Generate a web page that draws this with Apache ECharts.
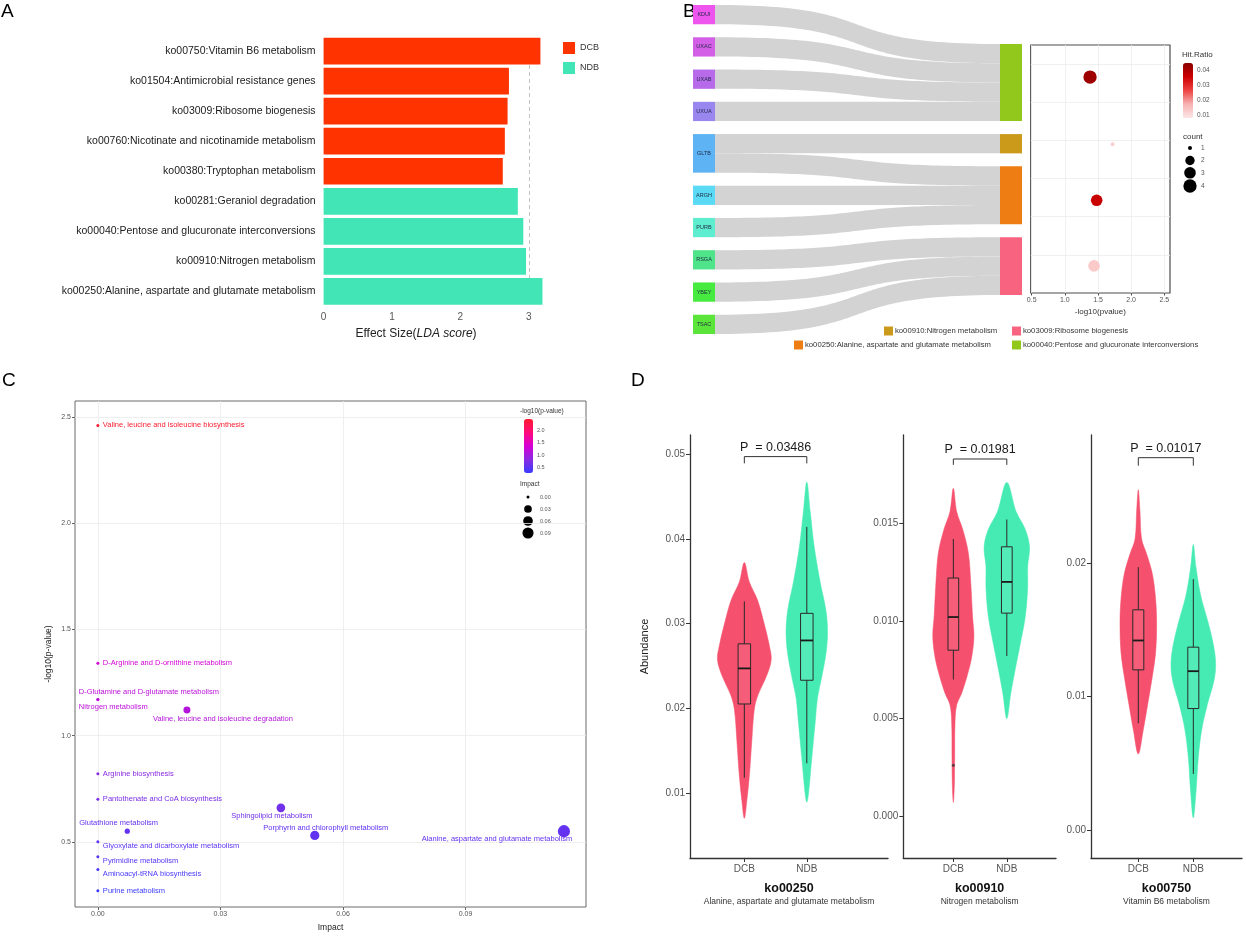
<!DOCTYPE html>
<html>
<head>
<meta charset="utf-8">
<script src="https://cdn.jsdelivr.net/npm/echarts@6/dist/echarts.min.js"></script>
<style>html,body{margin:0;padding:0;background:#fff}#c{width:1246px;height:939px}</style>
</head>
<body>
<div id="c"></div>
<script>
// ================= DATA =================
// ---- Panel A : LEfSe LDA scores
const aCategories = [
  'ko00750:Vitamin B6 metabolism',
  'ko01504:Antimicrobial resistance genes',
  'ko03009:Ribosome biogenesis',
  'ko00760:Nicotinate and nicotinamide metabolism',
  'ko00380:Tryptophan metabolism',
  'ko00281:Geraniol degradation',
  'ko00040:Pentose and glucuronate interconversions',
  'ko00910:Nitrogen metabolism',
  'ko00250:Alanine, aspartate and glutamate metabolism'
];
const aDCB = [3.17, 2.71, 2.69, 2.65, 2.62, null, null, null, null];
const aNDB = [null, null, null, null, null, 2.84, 2.92, 2.96, 3.20];
const aGroups = ['DCB', 'NDB'];
const aRefLine = 3;

// ---- Panel B : gene -> pathway sankey + enrichment dots
const bGenes = ['KDUI', 'UXAC', 'UXAB', 'UXUA', 'GLTB', 'ARGH', 'PURB', 'RSGA', 'YBEY', 'TSAC'];
const bPathways = [
  'ko00040:Pentose and glucuronate interconversions',
  'ko00910:Nitrogen metabolism',
  'ko00250:Alanine, aspartate and glutamate metabolism',
  'ko03009:Ribosome biogenesis'
];
const bLinkSource = ['KDUI', 'UXAC', 'UXAB', 'UXUA', 'GLTB', 'GLTB', 'ARGH', 'PURB', 'RSGA', 'YBEY', 'TSAC'];
const bLinkTarget = [0, 0, 0, 0, 1, 2, 2, 2, 3, 3, 3];
const bLinkValue  = [1, 1, 1, 1, 1, 1, 1, 1, 1, 1, 1];
const bNegLogP = [1.38, 1.72, 1.48, 1.44];
const bRow     = [5.66, 3.90, 2.43, 0.71];
const bHitRatio = [0.042, 0.012, 0.036, 0.013];
const bCount   = [4, 1, 3, 3];
const bXTicks = [0.5, 1.0, 1.5, 2.0, 2.5];
const bHitTicks = [0.04, 0.03, 0.02, 0.01];
const bCountTicks = [1, 2, 3, 4];

// ---- Panel C : pathway impact vs -log10(p)
const cNames = [
  'Valine, leucine and isoleucine biosynthesis',
  'D-Arginine and D-ornithine metabolism',
  'D-Glutamine and D-glutamate metabolism',
  'Nitrogen metabolism',
  'Valine, leucine and isoleucine degradation',
  'Arginine biosynthesis',
  'Pantothenate and CoA biosynthesis',
  'Sphingolipid metabolism',
  'Glutathione metabolism',
  'Porphyrin and chlorophyll metabolism',
  'Alanine, aspartate and glutamate metabolism',
  'Glyoxylate and dicarboxylate metabolism',
  'Pyrimidine metabolism',
  'Aminoacyl-tRNA biosynthesis',
  'Purine metabolism'
];
const cImpact = [0, 0, 0, 0, 0.0218, 0, 0, 0.0448, 0.0072, 0.0531, 0.1141, 0, 0, 0, 0];
const cNegLogP = [2.46, 1.34, 1.17, 1.17, 1.12, 0.82, 0.70, 0.66, 0.55, 0.53, 0.55, 0.50, 0.43, 0.37, 0.27];
const cXTicks = [0, 0.03, 0.06, 0.09];
const cYTicks = [0.5, 1.0, 1.5, 2.0, 2.5];
const cColorTicks = [2.0, 1.5, 1.0, 0.5];
const cImpactTicks = [0, 0.03, 0.06, 0.09];

// ---- Panel D : violin plots  (outline = [abundance, half width])
const dGroups = ['DCB', 'NDB'];
const dPathways = ['ko00250', 'ko00910', 'ko00750'];
const dPathwayNames = ['Alanine, aspartate and glutamate metabolism', 'Nitrogen metabolism', 'Vitamin B6 metabolism'];
const dPValues = ['0.03486', '0.01981', '0.01017'];
const vio250DCB = [[0.0372,0],[0.0349,0.08],[0.0328,0.21],[0.0299,0.32],[0.0274,0.40],[0.0257,0.43],[0.0237,0.35],[0.0216,0.22],[0.0199,0.16],[0.0162,0.12],[0.0120,0.08],[0.0091,0.04],[0.0070,0]];
const vio250NDB = [[0.0467,0],[0.0433,0.053],[0.0391,0.118],[0.0349,0.214],[0.0316,0.305],[0.0291,0.332],[0.0266,0.31],[0.0237,0.24],[0.0212,0.171],[0.0183,0.134],[0.0141,0.08],[0.0099,0.027],[0.0089,0]];
const vio910DCB = [[0.0168,0],[0.0156,0.063],[0.0147,0.175],[0.0135,0.28],[0.0120,0.325],[0.0102,0.36],[0.0092,0.385],[0.0081,0.34],[0.0072,0.26],[0.0063,0.156],[0.0057,0.063],[0.0048,0.031],[0.0030,0.025],[0.0016,0.019],[0.0007,0]];
const vio910NDB = [[0.0171,0],[0.0156,0.175],[0.0147,0.344],[0.0138,0.425],[0.0128,0.39],[0.0117,0.39],[0.0102,0.344],[0.0088,0.25],[0.0075,0.156],[0.0063,0.075],[0.0050,0]];
const vio750DCB = [[0.0255,0],[0.0239,0.03],[0.0218,0.06],[0.0207,0.15],[0.0192,0.255],[0.0173,0.315],[0.0155,0.333],[0.0133,0.315],[0.0115,0.255],[0.0094,0.17],[0.0075,0.09],[0.0057,0]];
const vio750NDB = [[0.0214,0],[0.0197,0.048],[0.0176,0.133],[0.0155,0.273],[0.0139,0.364],[0.0125,0.406],[0.0112,0.376],[0.0094,0.255],[0.0075,0.152],[0.0054,0.09],[0.0028,0.048],[0.0009,0]];
// box stats: [lower whisker, Q1, median, Q3, upper whisker]
const box250DCB = [0.0118, 0.0205, 0.0247, 0.0276, 0.0326];
const box250NDB = [0.0135, 0.0233, 0.0280, 0.0312, 0.0414];
const box910DCB = [0.0070, 0.0085, 0.0102, 0.0122, 0.0142];
const box910NDB = [0.0082, 0.0104, 0.0120, 0.0138, 0.0152];
const box750DCB = [0.0080, 0.0120, 0.0142, 0.0165, 0.0197];
const box750NDB = [0.0042, 0.0091, 0.0119, 0.0137, 0.0188];
const out910DCB = [0.0026];
const dBracketLevel = [0.0497, 0.0183, 0.0279];
const dBracketTip   = [0.0489, 0.0180, 0.0273];
const dYTicks = [[0.01, 0.02, 0.03, 0.04, 0.05], [0, 0.005, 0.010, 0.015], [0, 0.01, 0.02]];
const dYDigits = [2, 3, 2];

// ================= STYLE =================
const FONT = 'Liberation Sans, Arial, Helvetica, sans-serif';
const RED = '#FF3300', TEAL = '#42E5B5';
const VDCB = '#F5506D', VNDB = '#45EBB3';
const geneColors = ['#EE55EE', '#D35FE6', '#B76BEB', '#9A86EF', '#5DB3F4', '#5BDAF5', '#5EEDCF', '#50E48A', '#47EB3F', '#5BE53A'];
const pathColors = ['#92C81C', '#CC9A1A', '#EE7E13', '#F8637F'];

// ================= BUILD =================
const chart = echarts.init(document.getElementById('c'), null, {renderer: 'canvas', width: 1246, height: 939});

// --- sankey layout: centre the right column
const SK = {left: 693, top: 5, width: 329, height: 329, gap: 13};
const totalLeft = bLinkValue.reduce((a, b) => a + b, 0);
const ky = (SK.height - (bGenes.length - 1) * SK.gap) / totalLeft;
const pathTotals = bPathways.map((p, i) => bLinkTarget.reduce((s, t, k) => s + (t === i ? bLinkValue[k] : 0), 0));
const rightSpan = pathTotals.reduce((a, b) => a + b, 0) * ky + (bPathways.length - 1) * SK.gap;
let yCursor = (SK.height - rightSpan) / 2;
const sankeyNodes = bGenes.map((g, i) => ({name: g, itemStyle: {color: geneColors[i]}}));
bPathways.forEach((p, i) => {
  sankeyNodes.push({name: p, localY: yCursor / SK.height, itemStyle: {color: pathColors[i]}, label: {show: false}});
  yCursor += pathTotals[i] * ky + SK.gap;
});
const sankeyLinks = bLinkSource.map((s, i) => ({source: s, target: bPathways[bLinkTarget[i]], value: bLinkValue[i]}));

// --- sizes
const bDotSize = c => 4 + 9.3 * Math.sqrt((c - 1) / 3);
const cDotSize = v => 3 + 27 * Math.sqrt(v);

// --- C labels placement (style only)
const cLabelPlace = {
  'D-Glutamine and D-glutamate metabolism': ['left', -19, -8],
  'Nitrogen metabolism': ['left', -19, 7],
  'Valine, leucine and isoleucine degradation': ['center', 36, 9],
  'Sphingolipid metabolism': ['center', -9, 8],
  'Glutathione metabolism': ['left', -48, -8],
  'Porphyrin and chlorophyll metabolism': ['center', 11, -7],
  'Alanine, aspartate and glutamate metabolism': ['center', -67, 8],
  'Glyoxylate and dicarboxylate metabolism': ['left', 5, 4],
  'Pyrimidine metabolism': ['left', 5, 4],
  'Aminoacyl-tRNA biosynthesis': ['left', 5, 5]
};
const cData = cNames.map((n, i) => {
  const pl = cLabelPlace[n] || ['left', 5, 0];
  return {name: n, value: [cImpact[i], cNegLogP[i]],
    label: {position: 'inside', align: pl[0], verticalAlign: 'middle', offset: [pl[1], pl[2]]}};
});

// --- violin render
const violinSets = [
  [{x: 1, profile: vio250DCB, box: box250DCB, color: VDCB}, {x: 2, profile: vio250NDB, box: box250NDB, color: VNDB}],
  [{x: 1, profile: vio910DCB, box: box910DCB, color: VDCB}, {x: 2, profile: vio910NDB, box: box910NDB, color: VNDB}],
  [{x: 1, profile: vio750DCB, box: box750DCB, color: VDCB}, {x: 2, profile: vio750NDB, box: box750NDB, color: VNDB}]
];
function violinRenderer(set) {
  return function (params, api) {
    const g = set[params.dataIndex];
    const x = g.x;
    const left = g.profile.map(p => api.coord([x - p[1], p[0]]));
    const right = g.profile.filter(p => p[1] > 0).map(p => api.coord([x + p[1], p[0]])).reverse();
    const pts = left.concat(right);
    const bw = 0.1;
    const [lo, q1, med, q3, hi] = g.box;
    const tl = api.coord([x - bw, q3]), br = api.coord([x + bw, q1]);
    const cx = api.coord([x, med])[0];
    const yMed = api.coord([x, med])[1];
    const yHi = api.coord([x, hi])[1], yLo = api.coord([x, lo])[1];
    return {type: 'group', children: [
      {type: 'polygon', shape: {points: pts, smooth: 0.35}, style: {fill: g.color, stroke: g.color, lineWidth: 0.5}},
      {type: 'line', shape: {x1: cx, y1: yHi, x2: cx, y2: tl[1]}, style: {stroke: '#2a2a2a', lineWidth: 1}},
      {type: 'line', shape: {x1: cx, y1: br[1], x2: cx, y2: yLo}, style: {stroke: '#2a2a2a', lineWidth: 1}},
      {type: 'rect', shape: {x: tl[0], y: tl[1], width: br[0] - tl[0], height: br[1] - tl[1]}, style: {fill: 'rgba(255,255,255,0.08)', stroke: '#2a2a2a', lineWidth: 1}},
      {type: 'line', shape: {x1: tl[0], y1: yMed, x2: br[0], y2: yMed}, style: {stroke: '#1a1a1a', lineWidth: 1.8}}
    ]};
  };
}
function bracketRenderer(k) {
  return function (params, api) {
    const a = api.coord([1, dBracketLevel[k]]), b = api.coord([2, dBracketLevel[k]]);
    const ta = api.coord([1, dBracketTip[k]]), tb = api.coord([2, dBracketTip[k]]);
    return {type: 'group', children: [
      {type: 'polyline', shape: {points: [ta, a, b, tb]}, style: {stroke: '#333', lineWidth: 1, fill: null}},
      {type: 'text', style: {text: 'P  = ' + dPValues[k], x: (a[0] + b[0]) / 2, y: a[1] - 3, align: 'center', verticalAlign: 'bottom', fontSize: 12.5, fontFamily: FONT, fill: '#1a1a1a'}}
    ]};
  };
}

// --- grids
const dGridRect = [
  {left: 690, top: 435, width: 198, height: 423},
  {left: 903.3, top: 435, width: 152.7, height: 423},
  {left: 1091, top: 435, width: 151, height: 423}
];
const dXRange = [[0.13, 3.30], [0.064, 2.92], [0.14, 2.885]];
const dYRange = [[0.00232, 0.05225], [-0.00215, 0.01953], [-0.0021, 0.0296]];

const grids = [
  {left: 323.6, top: 36, width: 225.7, height: 270.5},
  {left: 1030.7, top: 45, width: 139.3, height: 248, show: true, borderColor: '#4d4d4d', borderWidth: 1.2, backgroundColor: '#fff'},
  {left: 75, top: 401, width: 511, height: 506, show: true, borderColor: '#6a6a6a', borderWidth: 1, backgroundColor: '#fff'}
].concat(dGridRect);

const xAxes = [
  {gridIndex: 0, type: 'value', min: 0, max: 3.3, interval: 1,
    axisLine: {show: false}, axisTick: {show: false}, splitLine: {show: false},
    axisLabel: {fontSize: 10, color: '#555', margin: 6, showMaxLabel: false}},
  {gridIndex: 1, type: 'value', min: 0.485, max: 2.586,
    axisLine: {show: false, onZero: false}, axisTick: {show: true, customValues: bXTicks, length: 2.5, lineStyle: {color: '#555'}},
    axisLabel: {customValues: bXTicks, formatter: v => Number(v).toFixed(1), fontSize: 7, color: '#555', margin: 4},
    splitLine: {show: true, lineStyle: {color: '#ececec', width: 0.8}},
    name: '-log10(pvalue)', nameLocation: 'middle', nameGap: 15, nameTextStyle: {fontSize: 8, color: '#333'}},
  {gridIndex: 2, type: 'value', min: -0.0056, max: 0.1195,
    axisLine: {show: false, onZero: false}, axisTick: {show: true, customValues: cXTicks, length: 3, lineStyle: {color: '#666'}},
    axisLabel: {customValues: cXTicks, formatter: v => Number(v).toFixed(2), fontSize: 7, color: '#555', margin: 4},
    splitLine: {show: true, lineStyle: {color: '#ebebeb', width: 0.8}},
    name: 'Impact', nameLocation: 'middle', nameGap: 16, nameTextStyle: {fontSize: 8.5, color: '#222'}}
];
const yAxes = [
  {gridIndex: 0, type: 'category', inverse: true, data: aCategories,
    axisLine: {show: false}, axisTick: {show: false}, splitLine: {show: false},
    axisLabel: {fontSize: 10.5, color: '#1a1a1a', margin: 8}},
  {gridIndex: 1, type: 'value', min: 0, max: 6.5,
    axisLine: {show: false, onZero: false}, axisTick: {show: false, customValues: [1, 2, 3, 4, 5, 6]},
    axisLabel: {show: false}, splitLine: {show: true, lineStyle: {color: '#ececec', width: 0.8}}},
  {gridIndex: 2, type: 'value', min: 0.193, max: 2.575,
    axisLine: {show: false, onZero: false}, axisTick: {show: true, customValues: cYTicks, length: 3, lineStyle: {color: '#666'}},
    axisLabel: {customValues: cYTicks, formatter: v => Number(v).toFixed(1), fontSize: 7, color: '#555', margin: 4},
    splitLine: {show: true, lineStyle: {color: '#ebebeb', width: 0.8}},
    name: '-log10(p-value)', nameLocation: 'middle', nameGap: 22, nameRotate: 90, nameTextStyle: {fontSize: 8.5, color: '#222'}}
];
for (let k = 0; k < 3; k++) {
  xAxes.push({gridIndex: 3 + k, type: 'value', min: dXRange[k][0], max: dXRange[k][1],
    axisLine: {show: true, onZero: false, lineStyle: {color: '#333', width: 1.3}},
    axisTick: {show: true, customValues: [1, 2], length: 4, lineStyle: {color: '#333'}},
    axisLabel: {customValues: [1, 2], formatter: v => dGroups[Math.round(v) - 1], fontSize: 10, color: '#555', margin: 6},
    splitLine: {show: false},
    name: '{t|' + dPathways[k] + '}\n{s|' + dPathwayNames[k] + '}', nameLocation: 'middle', nameGap: 23,
    nameTextStyle: {rich: {t: {fontSize: 12.5, fontWeight: 'bold', color: '#111', lineHeight: 15, fontFamily: FONT}, s: {fontSize: 8.5, color: '#333', lineHeight: 11, fontFamily: FONT}}}});
  yAxes.push({gridIndex: 3 + k, type: 'value', min: dYRange[k][0], max: dYRange[k][1],
    axisLine: {show: true, onZero: false, lineStyle: {color: '#333', width: 1.3}},
    axisTick: {show: true, customValues: dYTicks[k], length: 4, lineStyle: {color: '#333'}},
    axisLabel: {customValues: dYTicks[k], formatter: v => Number(v).toFixed(dYDigits[k]), fontSize: 10, color: '#555', margin: 5},
    splitLine: {show: false},
    name: k === 0 ? 'Abundance' : '', nameLocation: 'middle', nameGap: 40, nameTextStyle: {fontSize: 11, color: '#222'}});
}

const series = [
  {name: aGroups[0], type: 'bar', xAxisIndex: 0, yAxisIndex: 0, data: aDCB, barWidth: '89%', barGap: '-100%', itemStyle: {color: RED}, z: 3},
  {name: aGroups[1], type: 'bar', xAxisIndex: 0, yAxisIndex: 0, data: aNDB, barWidth: '89%', barGap: '-100%', itemStyle: {color: TEAL}, z: 3,
    markLine: {silent: true, symbol: 'none', z: 1, label: {show: false}, lineStyle: {type: [4, 3], color: '#c4c4c4', width: 1},
      data: [[{coord: [aRefLine, aCategories[0]]}, {coord: [aRefLine, aCategories[aCategories.length - 1]]}]]}},
  {type: 'sankey', left: SK.left, top: SK.top, width: SK.width, height: SK.height,
    nodeWidth: 22, nodeGap: SK.gap, layoutIterations: 0, draggable: false,
    emphasis: {focus: 'none'},
    label: {position: 'inside', fontSize: 5.5, color: '#1f2a44'},
    itemStyle: {borderWidth: 0},
    lineStyle: {color: '#d3d3d3', opacity: 1, curveness: 0.62},
    data: sankeyNodes, links: sankeyLinks},
  {name: 'enrich', type: 'scatter', xAxisIndex: 1, yAxisIndex: 1,
    data: bNegLogP.map((v, i) => [v, bRow[i], bHitRatio[i], bCount[i]]),
    symbolSize: v => bDotSize(v[3]), itemStyle: {opacity: 1}},
  {name: 'impact', type: 'scatter', xAxisIndex: 2, yAxisIndex: 2, data: cData,
    symbolSize: v => cDotSize(v[0]), itemStyle: {opacity: 1},
    label: {show: true, formatter: p => p.name, fontSize: 7.5, color: 'inherit', fontFamily: FONT}}
];
for (let k = 0; k < 3; k++) {
  series.push({type: 'custom', xAxisIndex: 3 + k, yAxisIndex: 3 + k,
    data: violinSets[k].map(g => [g.x, g.box[2]]), encode: {x: 0, y: 1},
    renderItem: violinRenderer(violinSets[k]), silent: true});
  series.push({type: 'custom', xAxisIndex: 3 + k, yAxisIndex: 3 + k,
    data: [[1.5, dBracketLevel[k]]], encode: {x: 0, y: 1},
    renderItem: bracketRenderer(k), silent: true});
}
series.push({type: 'scatter', xAxisIndex: 4, yAxisIndex: 4, data: out910DCB.map(v => [1, v]), symbolSize: 3, itemStyle: {color: '#333'}, silent: true});

// --- graphic: panel letters and legends
const T = (text, x, y, size, extra) => Object.assign({type: 'text', x: x, y: y, silent: true,
  style: Object.assign({text: text, fontSize: size, fontFamily: FONT, fill: '#222', verticalAlign: 'middle', align: 'left'}, extra || {})});
const graphics = [
  T('A', 1, 12, 19, {fill: '#000'}), T('B', 683, 12, 19, {fill: '#000'}),
  T('C', 2, 381, 19, {fill: '#000'}), T('D', 631, 381, 19, {fill: '#000'}),
  {type: 'text', x: 416, y: 334, silent: true, style: {text: '{n|Effect Size(}{i|LDA score}{n|)}', align: 'center', verticalAlign: 'middle',
    rich: {n: {fontSize: 12, fontFamily: FONT, fill: '#222'}, i: {fontSize: 12, fontStyle: 'italic', fontFamily: FONT, fill: '#222'}}}},
  // B colour legend
  T('Hit.Ratio', 1182, 55, 8, {fill: '#333'}),
  T('count', 1183, 137, 8, {fill: '#333'})
];
bHitTicks.forEach((v, i) => graphics.push(T(v.toFixed(2), 1197, 63.3 + (0.0447 - v) / (0.0447 - 0.008) * 55, 6.5, {fill: '#555'})));
bCountTicks.forEach((c, i) => {
  const r = bDotSize(c) / 2;
  const yy = [148, 160.5, 172.8, 186][i];
  graphics.push({type: 'circle', silent: true, shape: {cx: 1190, cy: yy, r: r}, style: {fill: '#000'}});
  graphics.push(T(String(c), 1201, yy, 6.5, {fill: '#555'}));
});
// B pathway legend
const bLegPos = [[884, 331], [1012, 331], [794, 345], [1012, 345]];
const bLegOrder = [1, 3, 2, 0];
bLegOrder.forEach((pi, k) => {
  const [lx, ly] = bLegPos[k];
  graphics.push({type: 'rect', silent: true, shape: {x: lx, y: ly - 4.5, width: 9, height: 9}, style: {fill: pathColors[pi]}});
  graphics.push(T(bPathways[pi], lx + 11, ly, 7.7, {fill: '#333'}));
});
// C legend
graphics.push(T('-log10(p-value)', 520, 411, 6.5, {fill: '#333'}));
cColorTicks.forEach(v => graphics.push(T(v.toFixed(1), 537, 419 + (2.46 - v) / (2.46 - 0.27) * 54, 5.5, {fill: '#555'})));
graphics.push(T('Impact', 520, 484, 6.5, {fill: '#333'}));
cImpactTicks.forEach((v, i) => {
  const yy = 497 + i * 12;
  graphics.push({type: 'circle', silent: true, shape: {cx: 528, cy: yy, r: cDotSize(v) / 2}, style: {fill: '#000'}});
  graphics.push(T(v.toFixed(2), 540, yy, 5.5, {fill: '#555'}));
});

const option = {
  animation: false,
  backgroundColor: '#fff',
  textStyle: {fontFamily: FONT},
  legend: {data: aGroups, orient: 'vertical', left: 563, top: 42, padding: 0, itemWidth: 12, itemHeight: 12, itemGap: 8, icon: 'rect',
    selectedMode: false, textStyle: {fontSize: 9, color: '#333'}},
  grid: grids,
  xAxis: xAxes,
  yAxis: yAxes,
  visualMap: [
    {type: 'continuous', seriesIndex: 4, dimension: 1, min: 0.27, max: 2.46, calculable: false, show: true,
      left: 524, top: 419, itemWidth: 9, itemHeight: 54, padding: 0, text: null, showLabel: false,
      inRange: {color: ['#3b3bff', '#8a2be2', '#d600d6', '#ff0a7a', '#ff1a2e']}},
    {type: 'continuous', seriesIndex: 3, dimension: 2, min: 0.008, max: 0.0447, calculable: false, show: true,
      left: 1183, top: 63, itemWidth: 10, itemHeight: 55, padding: 0, text: null,
      inRange: {color: ['#fde6e6', '#f7b3b3', '#ee4444', '#cc0000', '#8b0000']}}
  ],
  series: series,
  graphic: {elements: graphics}
};
chart.setOption(option);
</script>
</body>
</html>
